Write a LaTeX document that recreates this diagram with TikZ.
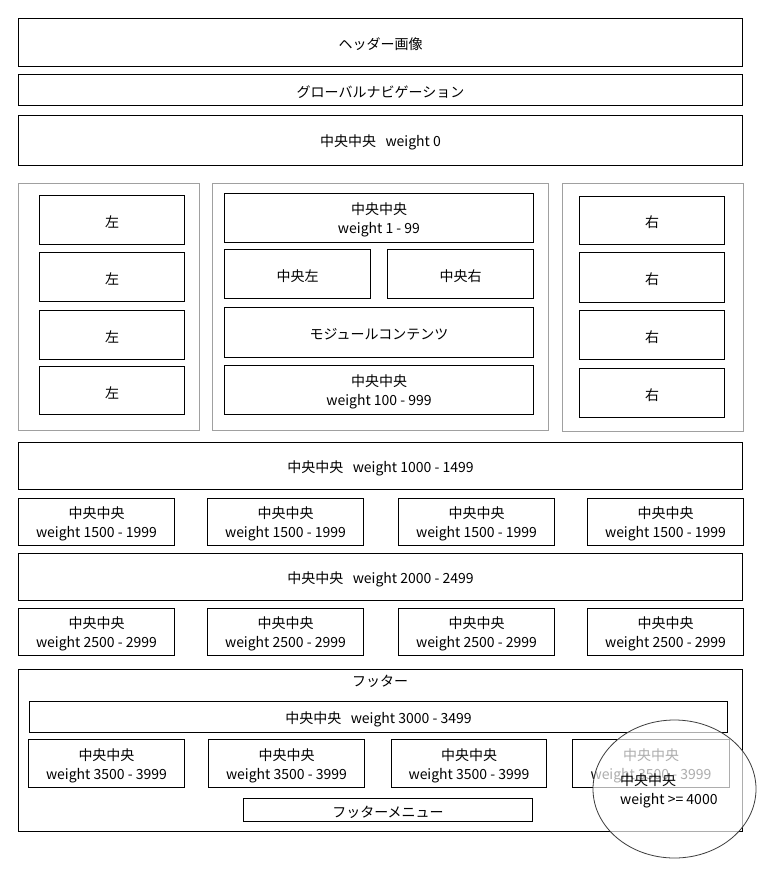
\documentclass[tikz,border=0pt]{standalone}
\usepackage{fontspec}
\setmainfont{Noto Sans CJK JP}
\usetikzlibrary{shapes.geometric}
\definecolor{framegray}{RGB}{160,160,160}
\definecolor{ringgray}{RGB}{60,60,60}
\tikzset{
  box/.style={draw=black, line width=1pt, fill=white, inner sep=0pt, outer sep=0pt},
  boxtext/.style={inner sep=0pt, outer sep=0pt, align=center, yshift=-2pt,
    font=\fontsize{14}{19}\selectfont},
  frame/.style={draw=framegray, line width=1pt, inner sep=0pt, outer sep=0pt},
  lens/.style={draw=ringgray, line width=0.8pt, fill=white, fill opacity=0.68, ellipse, inner sep=0pt},
  lbl/.style={inner sep=0pt, align=left, font=\fontsize{14}{19}\selectfont}
}
\newcommand{\bx}[7][box]{\node[#1, minimum width={(#5-#3)*1pt}, minimum height={(#6-#4)*1pt},
  label={[boxtext]center:{#7}}] (#2) at ({(#3+#5)/2},{(#4+#6)/2}) {};}
\begin{document}
\begin{tikzpicture}[x=1pt,y=-1pt]
\useasboundingbox[fill=white] (0,0) rectangle (768,876);
% top rows
\bx{header}{18.5}{18.5}{742.5}{66.5}{ヘッダー画像}
\bx{gnav}{18.5}{74.5}{742.5}{105.5}{グローバルナビゲーション}
\bx{wzero}{18.5}{115.5}{742.5}{165.5}{中央中央~~~weight 0}
% three columns
\bx[frame]{leftcol}{18.5}{183.5}{199.5}{430.5}{}
\bx[frame]{midcol}{212.5}{183.5}{548.5}{430.5}{}
\bx[frame]{rightcol}{562.5}{183.5}{743.5}{431.5}{}
\bx{lA}{39.5}{195.5}{184.5}{244.5}{左}
\bx{lB}{39.5}{252.5}{184.5}{301.5}{左}
\bx{lC}{39.5}{310.5}{184.5}{359.5}{左}
\bx{lD}{39.5}{366.5}{184.5}{414.5}{左}
\bx{mtop}{224.5}{193.5}{533.5}{242.5}{中央中央\\weight 1 - 99}
\bx{mleft}{224.5}{249.5}{370.5}{298.5}{中央左}
\bx{mright}{387.5}{249.5}{533.5}{298.5}{中央右}
\bx{module}{224.5}{307.5}{533.5}{357.5}{モジュールコンテンツ}
\bx{mbot}{224.5}{365.5}{533.5}{414.5}{中央中央\\weight 100 - 999}
\bx{rA}{579.5}{196.5}{724.5}{244.5}{右}
\bx{rB}{579.5}{252.5}{724.5}{302.5}{右}
\bx{rC}{579.5}{310.5}{724.5}{359.5}{右}
\bx{rD}{579.5}{368.5}{724.5}{417.5}{右}
% weight rows
\bx{wthousand}{18.5}{442.5}{742.5}{489.5}{中央中央~~~weight 1000 - 1499}
\bx{qa}{18.5}{498.5}{174.5}{545.5}{中央中央\\weight 1500 - 1999}
\bx{qb}{207.5}{498.5}{363.5}{545.5}{中央中央\\weight 1500 - 1999}
\bx{qc}{398.5}{498.5}{554.5}{545.5}{中央中央\\weight 1500 - 1999}
\bx{qd}{587.5}{498.5}{743.5}{545.5}{中央中央\\weight 1500 - 1999}
\bx{wtwo}{18.5}{553.5}{742.5}{600.5}{中央中央~~~weight 2000 - 2499}
\bx{pa}{18.5}{608.5}{174.5}{655.5}{中央中央\\weight 2500 - 2999}
\bx{pb}{207.5}{608.5}{363.5}{655.5}{中央中央\\weight 2500 - 2999}
\bx{pc}{398.5}{608.5}{554.5}{655.5}{中央中央\\weight 2500 - 2999}
\bx{pd}{587.5}{608.5}{743.5}{655.5}{中央中央\\weight 2500 - 2999}
% footer
\bx{footer}{18.5}{669.5}{742.5}{831.5}{}
\node[lbl] (footlbl) at (380,681) {フッター};
\bx{wthree}{29.5}{701.5}{727.5}{732.5}{中央中央~~~weight 3000 - 3499}
\bx{fa}{28.5}{739.5}{184.5}{787.5}{中央中央\\weight 3500 - 3999}
\bx{fb}{208.5}{739.5}{364.5}{787.5}{中央中央\\weight 3500 - 3999}
\bx{fc}{391.5}{739.5}{546.5}{787.5}{中央中央\\weight 3500 - 3999}
\bx{fd}{572.5}{739.5}{729.5}{787.5}{中央中央\\weight 3500 - 3999}
\bx{fmenu}{243.5}{798.5}{532.5}{821.5}{フッターメニュー}
% lens overlay
\node[lens, minimum width=163pt, minimum height=138pt] (lens) at (674.5,789) {};
\node[lbl, anchor=west] (four) at (620,791) {中央中央\\weight >= 4000};
\end{tikzpicture}
\end{document}
